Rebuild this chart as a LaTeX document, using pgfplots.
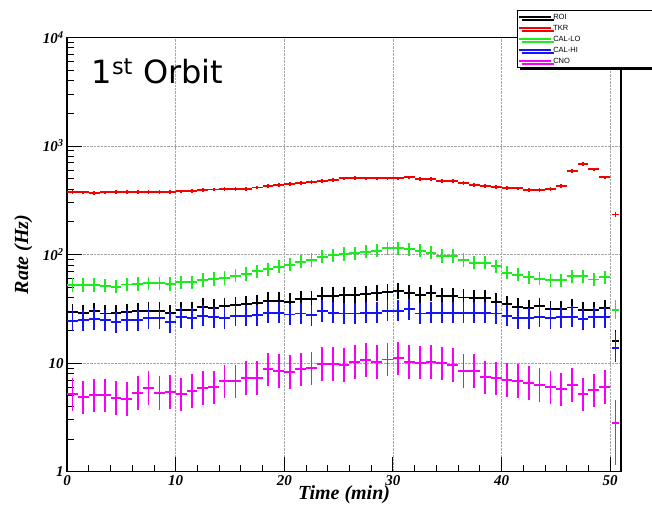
\documentclass[border=0pt]{standalone}
\usepackage{fontspec}
\setmainfont{Liberation Serif}
\newfontfamily\legfont{Liberation Sans}
\newfontfamily\titlefont{DejaVu Sans}
\usepackage{pgfplots}
\usepackage{pgfplotstable}
\pgfplotsset{compat=1.18}
\usetikzlibrary{shadows}
\definecolor{rgreen}{RGB}{30,235,30}
\definecolor{rblue}{RGB}{20,20,245}
\definecolor{rmag}{RGB}{245,0,245}
\definecolor{rred}{RGB}{245,0,0}

\pgfplotstableread{
x roi tkr callo calhi cno
0.5 29.7 379 52.4 24.6 5.16
1.5 29.1 374 52.4 24.9 4.84
2.5 30.2 372 52.4 25.5 5.08
3.5 28.7 374 51.6 24.9 5.08
4.5 29.1 377 50.6 23.9 4.80
5.5 29.7 377 53.1 24.9 4.67
6.5 30.2 377 53.5 24.9 5.34
7.5 30.4 377 54.3 25.9 5.94
8.5 30.4 377 54.3 25.9 5.34
9.5 29.1 378 53.5 23.9 5.45
10.5 30.8 382 55.5 26.4 5.19
11.5 30.8 385 55.5 25.9 5.57
12.5 33.1 395 58.3 27.3 5.94
13.5 32.4 398 59.5 26.4 5.99
14.5 33.6 400 60.8 25.9 6.84
15.5 34.3 402 63.9 27.3 6.84
16.5 35.0 404 66.1 27.3 7.34
17.5 35.5 415 70.0 27.7 7.34
18.5 37.6 425 73.1 29.1 8.77
19.5 37.6 435 77.3 29.1 8.51
20.5 36.8 450 80.6 28.1 8.34
21.5 38.7 455 85.9 28.7 8.77
22.5 38.7 465 89.0 27.7 8.96
23.5 41.8 478 95.5 30.2 9.81
24.5 41.8 486 98.4 29.1 9.81
25.5 42.4 503 101 28.7 9.61
26.5 42.4 505 103 28.7 10.3
27.5 43.3 503 106 29.1 10.7
28.5 44.0 503 108 29.1 10.3
29.5 45.4 503 114 30.4 10.8
30.5 46.4 503 114 30.4 11.1
31.5 44.5 514 112 31.3 10.3
32.5 42.4 496 108 28.7 10.1
33.5 44.0 496 104 29.1 10.3
34.5 41.5 478 97 29.1 9.96
35.5 41.5 478 97 29.1 9.61
36.5 40.3 458 89 29.1 8.51
37.5 39.5 437 84 29.1 8.51
38.5 39.5 425 84 29.1 7.40
39.5 36.8 419 78 28.7 7.25
40.5 35.0 412 68 27.3 6.99
41.5 33.1 407 65 25.9 6.89
42.5 32.0 393 62 25.9 6.60
43.5 33.6 393 60 26.8 6.29
44.5 31.3 401 58 25.9 5.99
45.5 31.3 427 58 26.4 5.74
46.5 32.6 591 63 26.8 6.29
47.5 30.8 686 63 25.3 5.19
48.5 30.8 609 59 26.4 5.65
49.5 32.0 514 62 26.4 6.06
}\data

\pgfplotstableread{
x roi tkr callo calhi cno
50.5 16.1 234 31 13.7 2.83
}\lastdata

\pgfplotsset{
  ebar/.style 2 args={forget plot, mark=none, draw=none,
    error bars/x dir=both, error bars/x fixed=#1,
    error bars/y dir=both, error bars/y explicit relative,
    error bars/error mark=none,
    error bars/error bar style={line width=1.8pt, solid, draw=#2}},
}

\begin{document}
\begin{tikzpicture}
\begin{axis}[
  at={(67.1pt,37.3pt)}, anchor=south west,
  scale only axis, width=553.9pt, height=434.3pt,
  xmin=0, xmax=51, ymin=1, ymax=10000, ymode=log,
  xtick={0,10,20,30,40,50}, xticklabels={0,10,20,30,40,50},
  minor x tick num=4,
  ytick={1,10,100,1000,10000},
  yticklabels={1,10,10\textsuperscript{2},10\textsuperscript{3},10\textsuperscript{4}},
  minor ytick={2,3,4,5,6,7,8,9,20,30,40,50,60,70,80,90,200,300,400,500,600,700,800,900,2000,3000,4000,5000,6000,7000,8000,9000},
  xtick pos=bottom, ytick pos=left,
  tick align=inside,
  major tick length=15pt, minor tick length=7pt,
  tick style={black, line width=0.9pt},
  axis line style={line width=1.4pt},
  grid=major,
  major grid style={gray!70, densely dotted, line width=0.6pt},
  tick label style={font=\fontsize{15}{15}\selectfont\bfseries\itshape},
  label style={font=\fontsize{20}{20}\selectfont\bfseries\itshape},
  xlabel={Time (min)}, ylabel={Rate (Hz)},
  xlabel style={at={(axis description cs:0.5,-0.054)}, anchor=center},
  ylabel style={at={(axis description cs:-0.079,0.5)}, anchor=center},
  legend style={at={(rel axis cs:0.812,1.063)}, anchor=north west,
    draw=black, line width=0.6pt, fill=white,
    drop shadow={shadow xshift=3pt, shadow yshift=-3pt, fill=black, opacity=1},
    font=\legfont\fontsize{7.5}{8}\selectfont,
    inner sep=1pt, row sep=0pt,
    nodes={inner sep=1.5pt, text height=6.5pt, text depth=1.5pt}},
  legend cell align=left,
  legend image code/.code={\path (0pt,0pt) -- (32pt,0pt); \draw[#1] (3pt,0pt) -- (27pt,0pt);},
]
\addlegendimage{black, line width=1.6pt}\addlegendentry{\makebox[100pt][l]{ROI}}
\addlegendimage{rred, line width=1.6pt}\addlegendentry{\makebox[100pt][l]{TKR}}
\addlegendimage{rgreen, line width=1.6pt}\addlegendentry{\makebox[100pt][l]{CAL-LO}}
\addlegendimage{rblue, line width=1.6pt}\addlegendentry{\makebox[100pt][l]{CAL-HI}}
\addlegendimage{rmag, line width=1.6pt}\addlegendentry{\makebox[100pt][l]{CNO}}

% ROI
\addplot[ebar={0.5}{black}]
  table[x=x, y=roi, y error plus expr=0.19, y error minus expr=0.16] {\data};
\addplot[ebar={0.35}{black}]
  table[x=x, y=roi, y error plus expr=0.25, y error minus expr=0.18] {\lastdata};
% TKR
\addplot[ebar={0.5}{rred}]
  table[x=x, y=tkr, y error plus expr=0.04, y error minus expr=0.04] {\data};
\addplot[ebar={0.35}{rred}]
  table[x=x, y=tkr, y error plus expr=0.05, y error minus expr=0.05] {\lastdata};
% CAL-LO
\addplot[ebar={0.5}{rgreen}]
  table[x=x, y=callo, y error plus expr=0.15, y error minus expr=0.13] {\data};
\addplot[ebar={0.35}{rgreen}]
  table[x=x, y=callo, y error plus expr=0.22, y error minus expr=0.18] {\lastdata};
% CAL-HI
\addplot[ebar={0.5}{rblue}]
  table[x=x, y=calhi, y error plus expr=0.25, y error minus expr=0.20] {\data};
\addplot[ebar={0.35}{rblue}]
  table[x=x, y=calhi, y error plus expr=0.42, y error minus expr=0.25] {\lastdata};
% CNO
\addplot[ebar={0.5}{rmag}]
  table[x=x, y=cno, y error plus expr=0.42, y error minus expr=0.30] {\data};
\addplot[ebar={0.35}{rmag}]
  table[x=x, y=cno, y error plus expr=0.61, y error minus expr=0.59] {\lastdata};

\node[anchor=base west, inner sep=0pt, font=\titlefont\fontsize{32}{32}\selectfont]
  at (rel axis cs:0.044,0.894) {1\textsuperscript{st} Orbit};
\end{axis}
\pgfresetboundingbox
\path[use as bounding box] (0,0) rectangle (652pt,509pt);
\end{tikzpicture}
\end{document}
